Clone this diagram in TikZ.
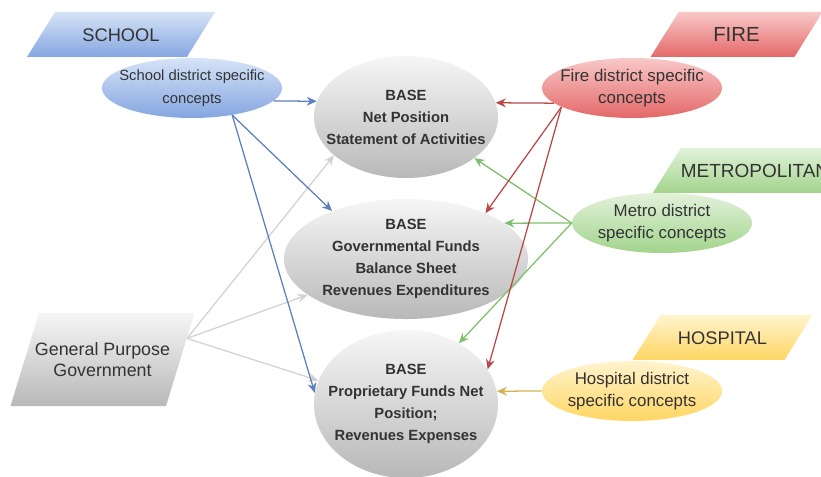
\documentclass[tikz,border=0pt]{standalone}
\usepackage{fontspec}
\setmainfont{Liberation Sans}
\usetikzlibrary{arrows.meta,shapes.geometric}

\definecolor{bluetop}{RGB}{214,227,247}
\definecolor{bluebot}{RGB}{132,166,224}
\definecolor{redtop}{RGB}{249,200,200}
\definecolor{redbot}{RGB}{228,104,104}
\definecolor{greentop}{RGB}{226,242,218}
\definecolor{greenbot}{RGB}{162,212,140}
\definecolor{yellowtop}{RGB}{255,244,206}
\definecolor{yellowbot}{RGB}{255,214,98}
\definecolor{greytop}{RGB}{246,246,246}
\definecolor{greybot}{RGB}{184,184,184}
\definecolor{bluelink}{RGB}{92,128,190}
\definecolor{redlink}{RGB}{186,72,72}
\definecolor{greenlink}{RGB}{128,192,106}
\definecolor{yellowlink}{RGB}{214,176,82}
\definecolor{greylink}{RGB}{210,210,210}

\begin{document}
\begin{tikzpicture}[x=0.025cm,y=-0.025cm,
    every node/.style={text=black!80},
    concept/.style={ellipse,align=center,inner sep=-8mm,minimum width=45mm,
      minimum height=15mm,font=\fontsize{12}{15.6}\selectfont},
    base/.style={ellipse,align=center,inner sep=-8mm,top color=greytop,
      bottom color=greybot,font=\bfseries\fontsize{10.5}{15.6}\selectfont},
    tag/.style={trapezium,trapezium left angle=58,trapezium right angle=122,
      trapezium stretches body,inner xsep=0pt,inner ysep=11.25pt,
      text height=9.5pt,text depth=0pt,minimum width=45mm,
      font=\fontsize{13}{15}\selectfont},
    link/.style={-{Stealth[length=2.5mm,width=2.2mm]},line width=0.9pt},
    blues/.style={top color=bluetop,bottom color=bluebot},
    reds/.style={top color=redtop,bottom color=redbot},
    greens/.style={top color=greentop,bottom color=greenbot},
    yellows/.style={top color=yellowtop,bottom color=yellowbot}]
  \useasboundingbox (0,0) rectangle (821,477);

  \node[tag,blues,minimum width=47mm] (tschool) at (121,34.5) {SCHOOL};
  \node[tag,reds,minimum width=43mm,font=\fontsize{14.5}{16}\selectfont] (tfire) at (736.5,34.5) {FIRE};
  \node[tag,greens,font=\fontsize{13.5}{15}\selectfont] (tmetro) at (755,170.5) {METROPOLITAN};
  \node[tag,yellows] (thosp) at (722.5,337.5) {HOSPITAL};
  \node[trapezium,trapezium left angle=73,trapezium right angle=107,
    trapezium stretches body,align=center,inner xsep=-1mm,inner ysep=21pt,
    minimum width=38mm,top color=greytop,bottom color=greybot,
    font=\fontsize{12.7}{15}\selectfont] (gpg) at (102.5,359.5) {General Purpose\\Government};

  \node[concept,blues,font=\fontsize{10.5}{16}\selectfont] (schoolc) at (192,88)
    {School district specific\\concepts};
  \node[concept,reds] (firec) at (632,88) {Fire district specific\\concepts};
  \node[concept,greens] (metroc) at (662,223) {Metro district\\specific concepts};
  \node[concept,yellows] (hospc) at (632,391) {Hospital district\\specific concepts};

  \node[base,minimum width=46mm,minimum height=30.5mm] (netpos) at (406,117)
    {BASE\\Net Position\\Statement of Activities};
  \node[base,minimum width=61mm,minimum height=30mm] (govfund) at (406,259)
    {BASE\\Governmental Funds\\Balance Sheet\\Revenues Expenditures};
  \node[base,minimum width=46mm,minimum height=37mm] (propfund) at (406,404)
    {BASE\\Proprietary Funds Net\\Position;\\Revenues Expenses};

  \draw[link,greylink] (gpg.14) -- (netpos.208);
  \draw[link,greylink] (gpg.14) -- (govfund.200);
  \draw[link,greylink] (gpg.14) -- (propfund.165);

  \draw[link,bluelink] (schoolc.-9) -- (netpos.170);
  \draw[link,bluelink] (schoolc.-34) -- (govfund.147);
  \draw[link,bluelink] (schoolc.-34) -- (propfund.173);

  \draw[link,greenlink] (metroc.180) -- (netpos.-31);
  \draw[link,greenlink] (metroc.180) -- (govfund.20);
  \draw[link,greenlink] (metroc.180) -- (propfund.49);

  \draw[link,redlink] (firec.191) -- (netpos.9);
  \draw[link,redlink] (firec.195) -- (govfund.30);
  \draw[link,redlink] (firec.195) -- (propfund.23);

  \draw[link,yellowlink] (hospc.180) -- (propfund.8);
\end{tikzpicture}
\end{document}
